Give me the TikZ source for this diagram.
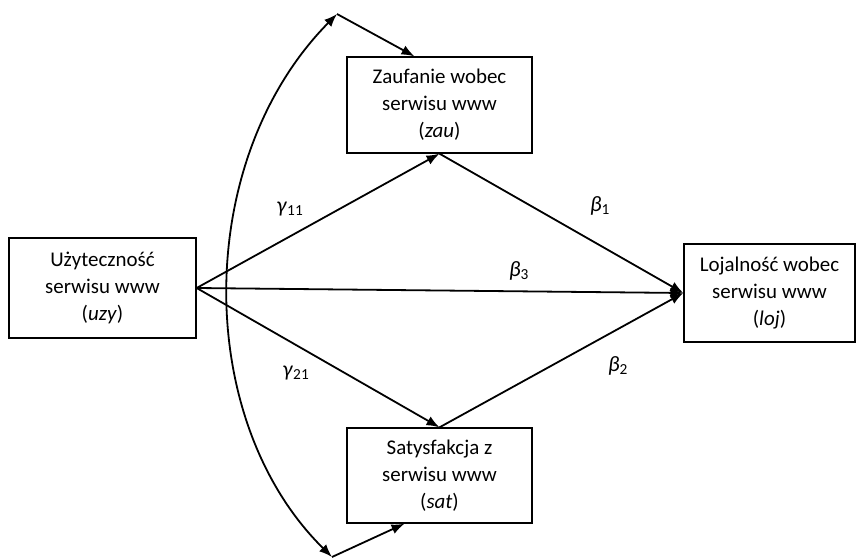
\documentclass[tikz,border=0pt]{standalone}
\usepackage{fontspec}
\setmainfont{Carlito}
\usetikzlibrary{arrows.meta}

\tikzset{
  var/.style={draw, line width=1.3bp, align=center, inner sep=0pt,
    font=\fontsize{21}{27}\selectfont},
  path/.style={line width=1.8bp, -{Latex[length=13bp,width=10bp]}},
  coef/.style={font=\fontsize{22}{24}\selectfont}
}

\begin{document}
\begin{tikzpicture}[x=1bp, y=-1bp]
    \useasboundingbox (0,0) rectangle (857,558);
    \node [var, minimum width=187bp, minimum height=100bp] (uzy) at (102.5,288)
      {Użyteczność\\serwisu www\\(\textit{uzy})};
    \node [var, minimum width=185bp, minimum height=96bp] (zau) at (439.5,105)
      {Zaufanie wobec\\serwisu www\\(\textit{zau})};
    \node [var, minimum width=185bp, minimum height=95bp] (sat) at (439.5,475.5)
      {Satysfakcja z\\serwisu www\\(\textit{sat})};
    \node [var, minimum width=171bp, minimum height=98bp] (loj) at (769.5,293)
      {Lojalność wobec\\serwisu www\\(\textit{loj})};
    \coordinate (top) at (337,14);
    \coordinate (bot) at (332,557);

    \draw [path] (uzy.east) -- (zau.south);
    \draw [path] (uzy.east) -- (sat.north);
    \draw [path] (uzy.east) -- (loj.west);
    \draw [path] (zau.south) -- (loj.west);
    \draw [path] (sat.north) -- (loj.west);
    \draw [path, {Latex[length=13bp,width=10bp]}-{Latex[length=13bp,width=10bp]}]
      (top) .. controls (193,160) and (193,420) .. (bot);
    \draw [path] (top) -- ([xshift=-25bp]zau.north);
    \draw [path] (bot) -- ([xshift=-35bp]sat.south);

    \node [coef] (g11) at (290,209) {\textit{γ}\textsubscript{11}};
    \node [coef] (g21) at (296,373) {\textit{γ}\textsubscript{21}};
    \node [coef] (b1) at (600,206) {\textit{β}\textsubscript{1}};
    \node [coef] (b3) at (519,271) {\textit{β}\textsubscript{3}};
    \node [coef] (b2) at (618,366) {\textit{β}\textsubscript{2}};
  \end{tikzpicture}
\end{document}
